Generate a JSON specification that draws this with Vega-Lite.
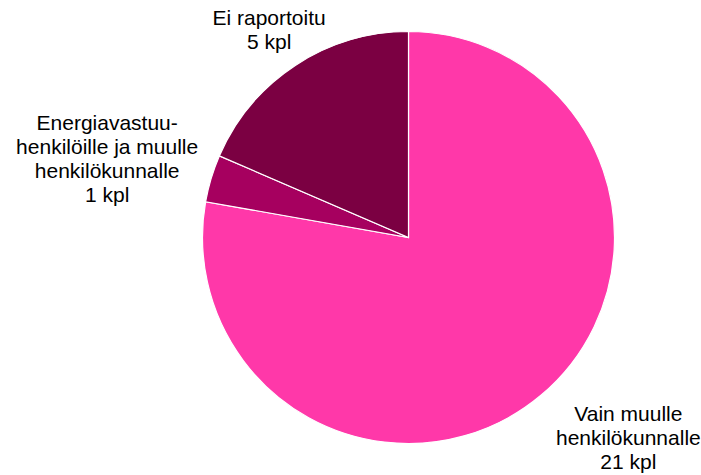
{
  "$schema": "https://vega.github.io/schema/vega-lite/v6.json",
  "width": 585,
  "height": 475,
  "autosize": "none",
  "padding": {"left": 116, "top": 0, "right": 0, "bottom": 0},
  "background": "white",
  "config": {"view": {"stroke": null}, "text": {"font": "Liberation Sans", "fontSize": 21, "lineHeight": 24, "fill": "#000000"}},
  "data": {
    "values": [
      {"label": "Vain muulle henkilökunnalle", "value": 21, "order": 1, "text": ["Vain muulle", "henkilökunnalle", "21 kpl"]},
      {"label": "Energiavastuuhenkilöille ja muulle henkilökunnalle", "value": 1, "order": 2, "text": ["Energiavastuu-", "henkilöille ja muulle", "henkilökunnalle", "1 kpl"]},
      {"label": "Ei raportoitu", "value": 5, "order": 3, "text": ["Ei raportoitu", "5 kpl"]}
    ]
  },
  "encoding": {
    "theta": {"field": "value", "type": "quantitative", "stack": true},
    "order": {"field": "order", "type": "quantitative"}
  },
  "layer": [
    {
      "mark": {"type": "arc", "outerRadius": 206, "stroke": "white", "strokeWidth": 1.2},
      "encoding": {
        "color": {
          "field": "label", "type": "nominal", "legend": null,
          "scale": {"domain": ["Vain muulle henkilökunnalle", "Energiavastuuhenkilöille ja muulle henkilökunnalle", "Ei raportoitu"], "range": ["#ff38a9", "#a6005f", "#7b0042"]}
        }
      }
    },
    {
      "mark": {"type": "text", "radius": 230, "dx": 72, "dy": 1, "align": "center", "baseline": "middle"},
      "encoding": {"text": {"condition": {"test": "datum.order == 1", "field": "text"}, "value": ""}}
    },
    {
      "mark": {"type": "text", "radius": 230, "dx": -81, "dy": -48, "align": "center", "baseline": "middle"},
      "encoding": {"text": {"condition": {"test": "datum.order == 2", "field": "text"}, "value": ""}}
    },
    {
      "mark": {"type": "text", "radius": 230, "dx": -13, "dy": -26, "align": "center", "baseline": "middle"},
      "encoding": {"text": {"condition": {"test": "datum.order == 3", "field": "text"}, "value": ""}}
    }
  ]
}
